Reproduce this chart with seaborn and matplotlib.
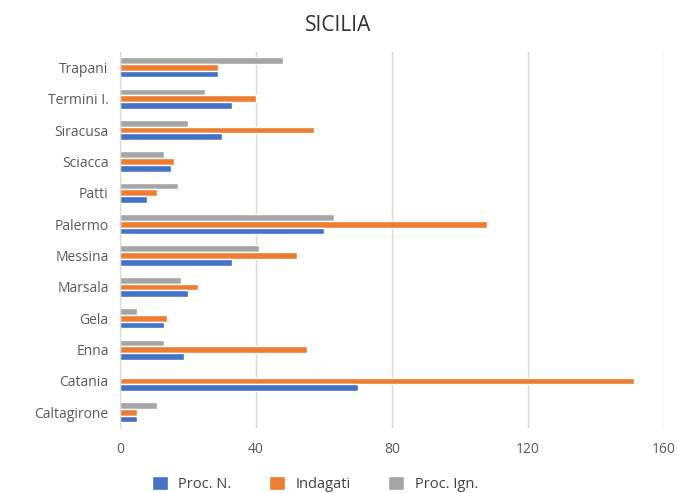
import matplotlib
matplotlib.use("Agg")
import matplotlib.pyplot as plt
import seaborn as sns
import pandas as pd

# top to bottom, as in the picture
courts = ["Trapani", "Termini I.", "Siracusa", "Sciacca", "Patti", "Palermo",
          "Messina", "Marsala", "Gela", "Enna", "Catania", "Caltagirone"]
proc_n = [29, 33, 30, 15, 8, 60, 33, 20, 13, 19, 70, 5]
indagati = [29, 40, 57, 16, 11, 108, 52, 23, 14, 55, 151, 5]
proc_ign = [48, 25, 20, 13, 17, 63, 41, 18, 5, 13, 0, 11]

series = ["Proc. N.", "Indagati", "Proc. Ign."]
colors = {"Proc. N.": "#4472C4", "Indagati": "#ED7D31", "Proc. Ign.": "#A5A5A5"}

df = pd.DataFrame({
    "court": courts * 3,
    "serie": [s for s in series for _ in courts],
    "value": proc_n + indagati + proc_ign,
})

sns.set_style("white")
plt.rcParams["font.family"] = ["Open Sans", "DejaVu Sans"]
text_color = "#595959"

fig = plt.figure(figsize=(6.77, 4.93), dpi=100)
ax = fig.add_axes([0.177, 0.132, 0.804, 0.763])

# gray on top, blue at the bottom of each group
sns.barplot(data=df, y="court", x="value", hue="serie", order=courts,
            hue_order=series[::-1], palette=colors, orient="h",
            width=0.64, gap=0, saturation=1, ax=ax, legend=True)

ax.set_xlim(0, 160)
ax.set_xticks([0, 40, 80, 120, 160])
ax.xaxis.grid(True, color="#d9d9d9", linewidth=1)
ax.set_axisbelow(True)
for side in ["top", "right", "bottom"]:
    ax.spines[side].set_visible(False)
ax.spines["left"].set_color("#d9d9d9")
ax.set_xlabel("")
ax.set_ylabel("")
ax.tick_params(axis="both", length=0, colors=text_color, labelsize=10)
ax.tick_params(axis="x", pad=10)
ax.tick_params(axis="y", pad=8)

handles, labels = ax.get_legend_handles_labels()
ax.get_legend().remove()
lookup = dict(zip(labels, handles))
fig.legend([lookup[s] for s in series], series, loc="lower center",
           ncol=3, frameon=False, bbox_to_anchor=(0.465, -0.025),
           fontsize=10.5, labelcolor="#404040", handlelength=1.1,
           handleheight=1.1, columnspacing=2.6, handletextpad=0.7)

fig.suptitle("SICILIA", y=0.97, fontsize=15, color="#303030")

plt.savefig("out.png", dpi=100)
plt.close()
